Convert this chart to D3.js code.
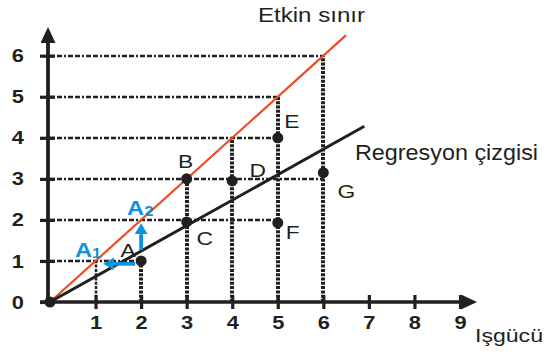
<!DOCTYPE html>
<html>
<head>
<meta charset="utf-8">
<script src="https://cdn.jsdelivr.net/npm/d3@7"></script>
<style>
  html, body { margin: 0; padding: 0; background: #fff; }
  svg { display: block; }
</style>
</head>
<body>
<script>
// Axis ticks
const xTicks = [1, 2, 3, 4, 5, 6, 7, 8, 9];
const yTicks = [0, 1, 2, 3, 4, 5, 6];

// Observed firms (labour, output)
const pointNames = ["", "A", "B", "C", "", "E", "F", "G"];
const pointX = [0, 2, 3, 3, 4, 5, 5, 6];
const pointY = [0, 1, 3, 1.95, 2.95, 4, 1.93, 3.15];

// Efficient frontier and regression line (start, end)
const frontierLine = [[0, 0], [6.5, 6.5]];
const regressionLine = [[0, 0], [6.9, 4.28]];
const pointD = [5, 3.1];

// Projections of A onto the frontier
const projNames = ["A1", "A2"];
const projPoints = [[1, 1], [2, 2]];
const arrowLeft = [[1.87, 0.93], [1.17, 0.93]];
const arrowUp = [[2, 1.27], [2, 1.92]];

// Dotted reference lines: horizontal [y, xEnd], vertical [x, yEnd]
const hGuides = [[1, 2], [2, 5], [3, 6], [4, 5], [5, 5], [6, 6]];
const vGuides = [[1, 1], [2, 1], [3, 3], [4, 4], [5, 5], [6, 6]];

const INK = "#231f20", RED = "#ee4b1e", BLUE = "#0a93e0";
const FONT = "'Liberation Sans', Arial, sans-serif";

const svg = d3.select("body").append("svg").attr("width", 545).attr("height", 354);

const x = d3.scaleLinear().domain([0, 9]).range([50, 460]);
const y = d3.scaleLinear().domain([0, 6]).range([302, 55.7]);

function stretch(sel, k) {
  sel.each(function () {
    const w = this.getComputedTextLength();
    d3.select(this).attr("textLength", w * k).attr("lengthAdjust", "spacingAndGlyphs");
  });
}

// Arrowhead markers
const defs = svg.append("defs");
function marker(id, len, wid, color) {
  defs.append("marker").attr("id", id)
    .attr("markerUnits", "userSpaceOnUse")
    .attr("viewBox", `0 0 ${len} ${wid}`)
    .attr("refX", 0).attr("refY", wid / 2)
    .attr("markerWidth", len).attr("markerHeight", wid)
    .attr("orient", "auto")
    .append("path").attr("d", `M0,0L${len},${wid / 2}L0,${wid}Z`).attr("fill", color);
}
marker("axisHead", 16, 15, INK);
marker("blueHead", 11, 13, BLUE);

// Dotted guides
svg.append("g").selectAll("line").data(hGuides).join("line")
  .attr("x1", x(0)).attr("x2", d => x(d[1]))
  .attr("y1", d => Math.round(y(d[0]))).attr("y2", d => Math.round(y(d[0])))
  .attr("stroke", INK).attr("stroke-width", 2.5)
  .attr("stroke-dasharray", "5,2,5,2,2,2");

svg.append("g").selectAll("line").data(vGuides).join("line")
  .attr("x1", d => Math.round(x(d[0]))).attr("x2", d => Math.round(x(d[0])))
  .attr("y1", y(0)).attr("y2", d => y(d[1]))
  .attr("stroke", INK).attr("stroke-width", d => d[0] === 1 ? 2.5 : 4)
  .attr("stroke-dasharray", "3,1.3");

// Axes
const yAxis = svg.append("g").attr("transform", "translate(55,0)")
  .call(d3.axisLeft(y).tickValues(yTicks).tickSize(15).tickPadding(16).tickFormat(d3.format("d")));
const xAxis = svg.append("g").attr("transform", "translate(0,295)")
  .call(d3.axisBottom(x).tickValues(xTicks).tickSize(14).tickPadding(7).tickFormat(d3.format("d")));
[yAxis, xAxis].forEach(g => {
  g.select(".domain").remove();
  g.selectAll(".tick line").attr("stroke", INK).attr("stroke-width", 3.2);
  g.selectAll(".tick text").attr("fill", INK).attr("font-family", FONT)
    .attr("font-size", 19).attr("font-weight", "bold");
});
stretch(yAxis.selectAll(".tick text"), 1.15);
stretch(xAxis.selectAll(".tick text"), 1.15);

// Axis lines with arrowheads
svg.append("line")
  .attr("x1", x(0) - 2).attr("x2", x(0) - 2)
  .attr("y1", y(0) + 3).attr("y2", 28 + 15)
  .attr("stroke", INK).attr("stroke-width", 3.8)
  .attr("marker-end", "url(#axisHead)");
svg.append("line")
  .attr("x1", 40).attr("x2", 477 - 16)
  .attr("y1", y(0)).attr("y2", y(0))
  .attr("stroke", INK).attr("stroke-width", 3.5)
  .attr("marker-end", "url(#axisHead)");

// Frontier and regression lines
const lineGen = d3.line().x(d => x(d[0])).y(d => y(d[1]));
svg.append("path").datum(frontierLine).attr("d", lineGen)
  .attr("stroke", RED).attr("stroke-width", 2.2).attr("fill", "none");
svg.append("path").datum(regressionLine).attr("d", lineGen)
  .attr("stroke", INK).attr("stroke-width", 3).attr("fill", "none");

// Blue projection arrows
function blueArrow(pts) {
  const x1 = x(pts[0][0]), y1 = y(pts[0][1]), x2 = x(pts[1][0]), y2 = y(pts[1][1]);
  const len = Math.hypot(x2 - x1, y2 - y1);
  const ux = (x2 - x1) / len, uy = (y2 - y1) / len;
  svg.append("line")
    .attr("x1", x1).attr("y1", y1)
    .attr("x2", x2 - ux * 11).attr("y2", y2 - uy * 11)
    .attr("stroke", BLUE).attr("stroke-width", 3.8)
    .attr("marker-end", "url(#blueHead)");
}
blueArrow(arrowLeft);
blueArrow(arrowUp);

// Observed points
const pts = pointX.map((px, i) => ({ name: pointNames[i], x: px, y: pointY[i] }));
svg.append("g").selectAll("circle").data(pts).join("circle")
  .attr("cx", d => x(d.x)).attr("cy", d => y(d.y)).attr("r", 5.5).attr("fill", INK);

// Point labels (pixel offsets from each point)
const labelOffset = { A: [-13, -4], B: [-1, -11], C: [18, 23], E: [14, -10], F: [15, 16], G: [23, 25], D: [-20, 2] };
const labelled = pts.filter(d => d.name).concat([{ name: "D", x: pointD[0], y: pointD[1] }]);
const lbl = svg.append("g").selectAll("text").data(labelled).join("text")
  .attr("x", d => x(d.x) + labelOffset[d.name][0])
  .attr("y", d => y(d.y) + labelOffset[d.name][1])
  .attr("text-anchor", "middle")
  .attr("font-family", FONT).attr("font-size", 19).attr("fill", INK)
  .text(d => d.name);
stretch(lbl, 1.2);

// A1 / A2 labels
const projOffset = [[-20.6, -4], [-14, -5]];
projNames.forEach((n, i) => {
  const t = svg.append("text")
    .attr("x", x(projPoints[i][0]) + projOffset[i][0])
    .attr("y", y(projPoints[i][1]) + projOffset[i][1])
    .attr("font-family", FONT).attr("font-weight", "bold").attr("fill", BLUE)
    .attr("font-size", 20);
  t.append("tspan").text(n[0]);
  t.append("tspan").attr("font-size", 14).attr("dy", 1).text(n.slice(1));
  stretch(t, 1.18);
});

// Titles
function title(txt, tx, ty, size, width) {
  svg.append("text").attr("x", tx).attr("y", ty)
    .attr("font-family", FONT).attr("font-size", size).attr("fill", INK)
    .attr("textLength", width).attr("lengthAdjust", "spacingAndGlyphs")
    .text(txt);
}
title("Etkin sınır", 258, 22, 20, 107);
title("Regresyon çizgisi", 355, 160, 22, 183);
title("Işgücü", 475, 342, 19, 68);
</script>
</body>
</html>
